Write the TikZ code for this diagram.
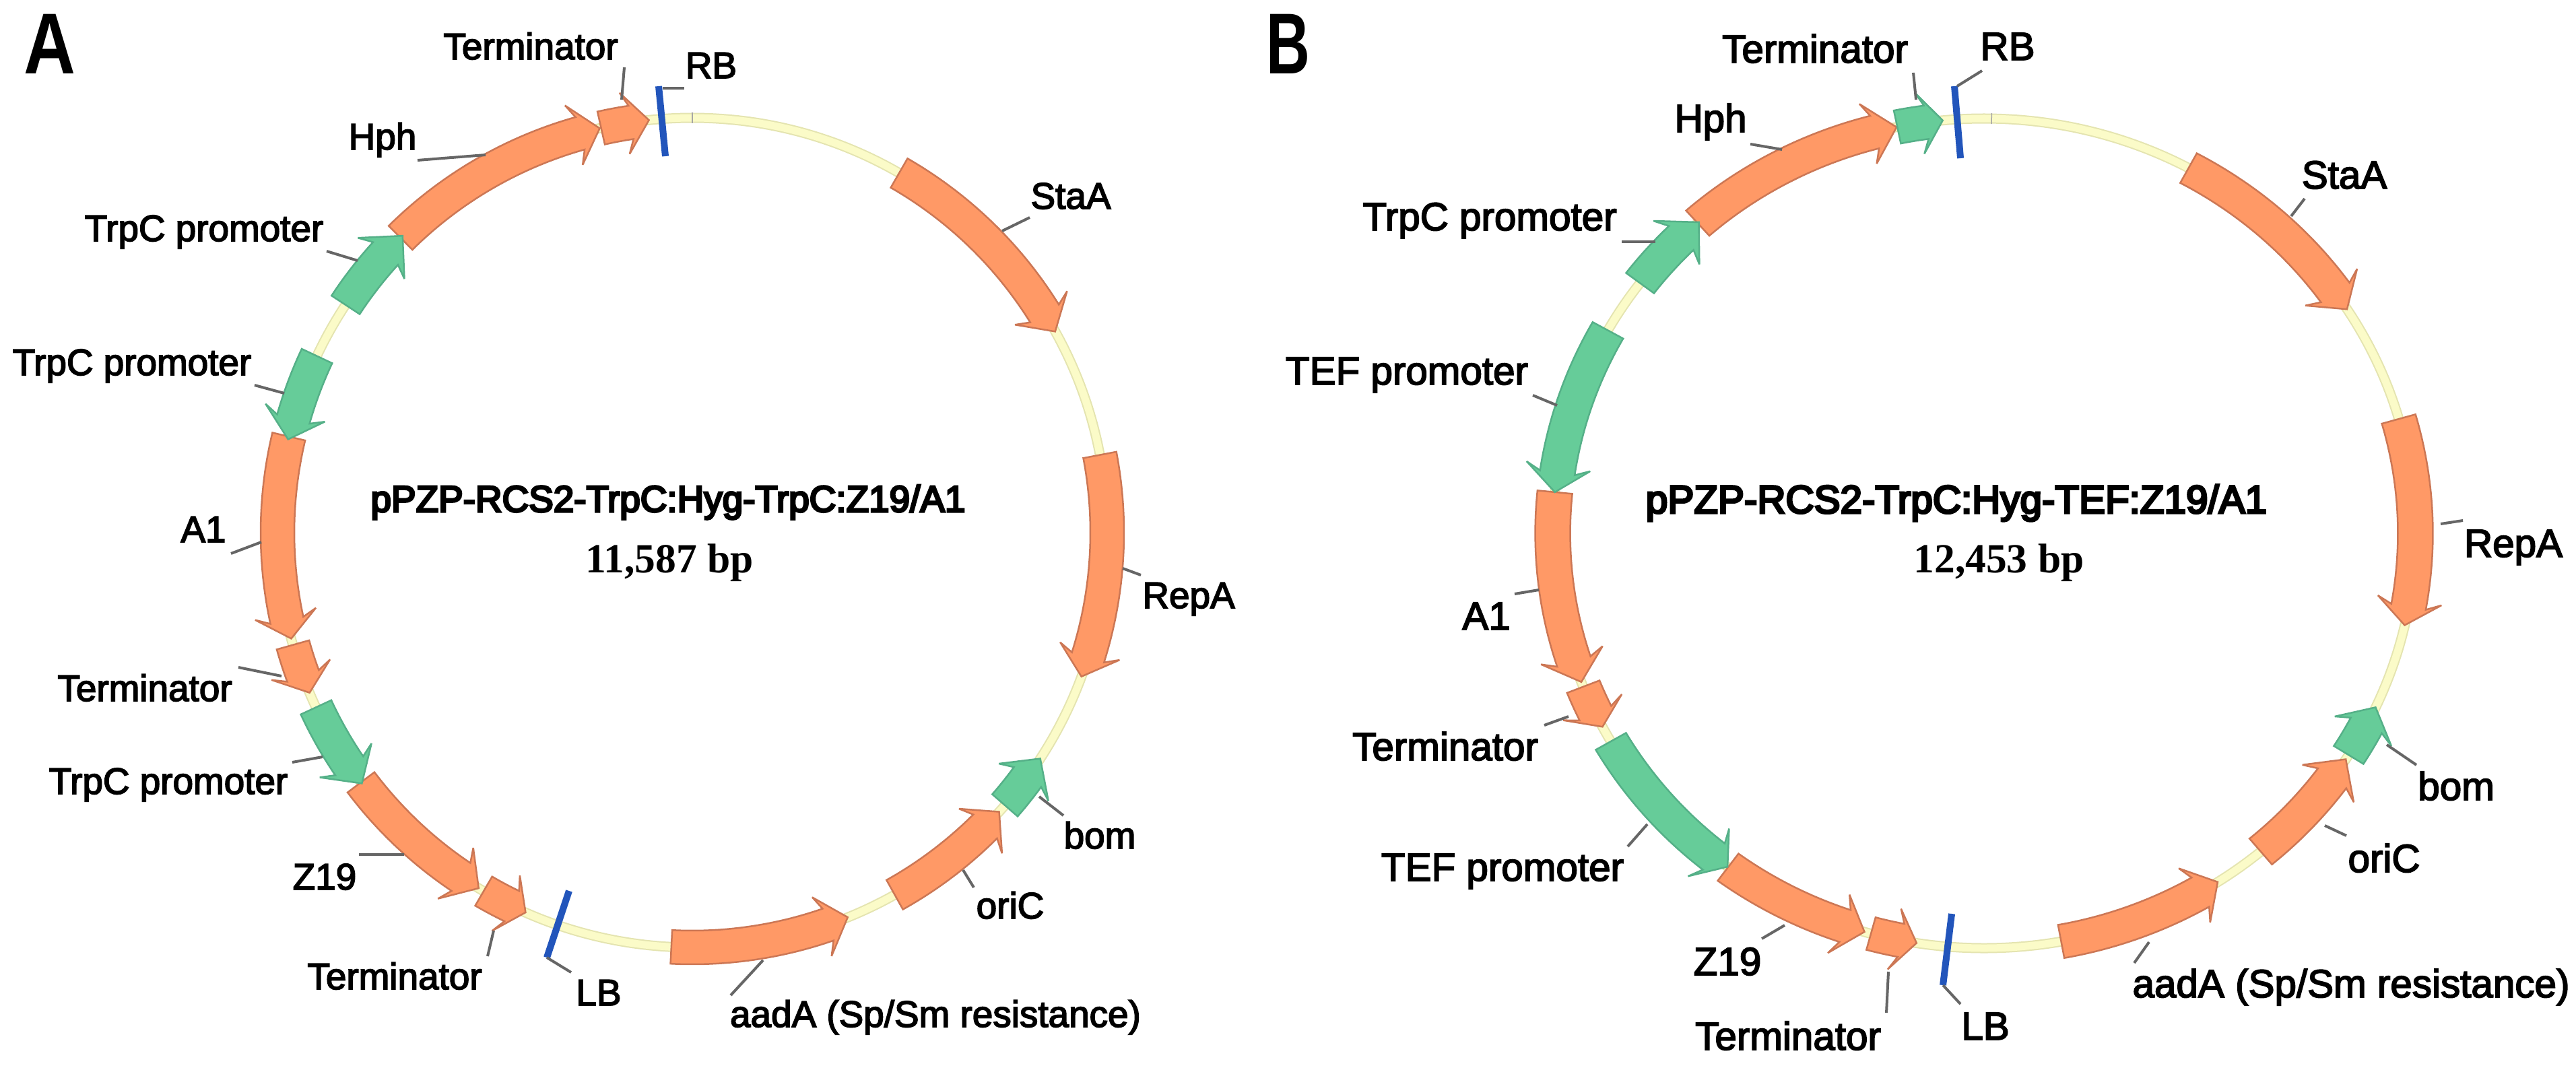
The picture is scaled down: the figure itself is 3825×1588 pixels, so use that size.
\documentclass[tikz,border=0pt]{standalone}
\usepackage{fontspec}
\setmainfont{Liberation Sans}
\newfontfamily\lblfont[FakeBold=3]{Liberation Sans}
\newfontfamily\titlefont[FakeBold=5.5]{Liberation Sans}
\newfontfamily\bpfont{Liberation Serif}
\definecolor{genorange}{HTML}{FF9966}
\definecolor{edgeorange}{HTML}{CC7755}
\definecolor{gengreen}{HTML}{66CC99}
\definecolor{edgegreen}{HTML}{55B088}
\definecolor{ringfill}{HTML}{FBFBC8}
\definecolor{ringedge}{HTML}{E4E4B0}
\definecolor{borderblue}{HTML}{2255BB}
\tikzset{
  ring/.style={draw=ringedge, line width=0.02cm, double=ringfill, double distance=0.11cm},
  orangegene/.style={draw=edgeorange, fill=genorange, line width=0.025cm, miter limit=2},
  greengene/.style={draw=edgegreen, fill=gengreen, line width=0.025cm, miter limit=2},
  border/.style={draw=borderblue, line width=0.1cm},
  leader/.style={draw=black!60, line width=0.04cm},
  tick/.style={draw=black!35, line width=0.015cm},
  lbla/.style={anchor=base, inner sep=0pt, font=\lblfont\fontsize{15.6}{18}\selectfont},
  lblb/.style={anchor=base, inner sep=0pt, font=\lblfont\fontsize{16.6}{19}\selectfont},
  titlea/.style={anchor=base, inner sep=0pt, font=\titlefont\fontsize{15.6}{18}\selectfont},
  titleb/.style={anchor=base, inner sep=0pt, font=\titlefont\fontsize{16.6}{19}\selectfont},
  bplbl/.style={anchor=base, inner sep=0pt, font=\bpfont\bfseries\fontsize{17.5}{20}\selectfont},
  panel/.style={anchor=base, inner sep=0pt, font=\bfseries\fontsize{36.5}{40}\selectfont},
}
% style, tail angle, head base angle, tip angle
\newcommand{\genearrow}[4]{
  \pgfmathsetmacro{\headjoin}{#3+0.9*sign(#4-#3)}
  \draw[#1] (#2:641) arc[start angle=#2, end angle=\headjoin, radius=641] -- (#3:662) -- (#4:616)
    -- (#3:570) -- (\headjoin:591) arc[start angle=\headjoin, end angle=#2, radius=591] -- cycle;
}
\begin{document}
\begin{tikzpicture}[x=0.01cm,y=-0.01cm]
\useasboundingbox (0,0) rectangle (3825,1588);

% plasmid A
\begin{scope}[shift={(1028,791)}]
\draw[ring] (0,0) circle[radius=616];
\coordinate (aTicks) at (-90:608);
\coordinate (aTicke) at (-90:624);
\draw[tick] (aTicks) -- (aTicke);
\genearrow{orangegene}{-60.1}{-32.8}{-29}
\genearrow{orangegene}{-10.8}{16.6}{20.3}
\genearrow{greengene}{41.1}{37}{33}
\genearrow{orangegene}{60.8}{46}{42.3}
\genearrow{orangegene}{92.9}{71.8}{68}
\genearrow{orangegene}{143}{124.8}{121}
\genearrow{orangegene}{120.2}{116.7}{113.7}
\genearrow{orangegene}{193.4}{168.7}{165.2}
\genearrow{orangegene}{164.3}{160.7}{157.3}
\genearrow{greengene}{155.1}{146.7}{142.8}
\genearrow{greengene}{205.2}{196.8}{193}
\genearrow{orangegene}{225.3}{253.4}{257.1}
\genearrow{greengene}{213.3}{221.4}{225.7}
\genearrow{orangegene}{257.3}{260.6}{264}
\end{scope}

% plasmid B
\begin{scope}[shift={(2946,792)},x=0.01039cm]
\draw[ring] (0,0) circle[radius=616];
\coordinate (bTicks) at (-89:608);
\coordinate (bTicke) at (-89:624);
\draw[tick] (bTicks) -- (bTicke);
\genearrow{orangegene}{-61.7}{-36.4}{-32.7}
\genearrow{orangegene}{-16}{9.3}{12.8}
\genearrow{greengene}{32.3}{28.5}{24.8}
\genearrow{orangegene}{50.1}{37.1}{33}
\genearrow{orangegene}{79.7}{60.8}{57.2}
\genearrow{orangegene}{105.2}{102}{99}
\genearrow{orangegene}{126.4}{109.7}{106.1}
\genearrow{greengene}{149.9}{129.7}{126.5}
\genearrow{orangegene}{158.3}{155.2}{152.2}
\genearrow{orangegene}{185.7}{162.9}{159}
\genearrow{greengene}{209.3}{189.3}{185.7}
\genearrow{orangegene}{228.4}{254.4}{258.3}
\genearrow{greengene}{217.1}{224.5}{228.6}
\genearrow{greengene}{258.4}{261.4}{264.5}
\end{scope}

% T-DNA borders
\foreach \n/\xa/\ya/\xb/\yb in {aRB/978/128/988/232, aLB/845/1323/812/1422, bRB/2902/128/2911/235, bLB/2898/1357/2885/1463}{
  \coordinate (\n s) at (\xa,\ya);
  \coordinate (\n e) at (\xb,\yb);
  \draw[border] (\n s) -- (\n e);
}

% leader lines
\foreach \n/\xa/\ya/\xb/\yb in {
  a1/927/100/923/148, a2/984/131/1016/131, a3/620/238/721/230, a4/1529/323/1488/343,
  a5/485/373/531/387, a6/378/572/422/584, a7/343/822/388/805, a8/1667/844/1694/854,
  a9/354/991/418/1004, a10/434/1132/479/1124, a11/533/1269/600/1269, a12/724/1420/733/1382,
  a13/812/1422/848/1444, a14/1133/1426/1085/1478, a15/1430/1292/1446/1318, a16/1543/1183/1579/1211,
  b1/2841/108/2845/148, b2/2943/105/2906/128, b3/2599/214/2646/222, b4/3422/295/3402/321,
  b5/2408/359/2458/359, b6/2276/587/2312/602, b7/3624/778/3657/773, b8/2249/882/2285/876,
  b9/2293/1077/2329/1064, b10/2417/1257/2446/1224, b11/2616/1394/2650/1374, b12/2801/1504/2804/1443,
  b13/2911/1491/2885/1463, b14/3169/1430/3191/1399, b15/3484/1241/3452/1226, b16/3588/1136/3544/1106}{
  \coordinate (\n s) at (\xa,\ya);
  \coordinate (\n e) at (\xb,\yb);
  \draw[leader] (\n s) -- (\n e);
}

\node[panel] (panelA) at (74,110) {\scalebox{0.83}[1]{A}};
\node[lbla] (aTermTop) at (788,88) {Terminator};
\node[lbla] (aRB) at (1056,116) {RB};
\node[lbla] (aHph) at (568,222) {Hph};
\node[lbla] (aStaA) at (1590,310) {StaA};
\node[lbla] (aTrpCa) at (303,358) {TrpC promoter};
\node[lbla] (aTrpCb) at (196,557) {TrpC promoter};
\node[titlea] (aTitle) at (992,760) {pPZP-RCS2-TrpC:Hyg-TrpC:Z19/A1};
\node[bplbl] (aSize) at (994,850) {11,587 bp};
\node[lbla] (aAone) at (302,805) {A1};
\node[lbla] (aRepA) at (1765,903) {RepA};
\node[lbla] (aTermLeft) at (215,1041) {Terminator};
\node[lbla] (aTrpCc) at (250,1179) {TrpC promoter};
\node[lbla] (aZ) at (482,1321) {Z19};
\node[lbla] (aTermBot) at (586,1469) {Terminator};
\node[lbla] (aLB) at (889,1493) {LB};
\node[lbla] (aAadA) at (1389,1525) {aadA (Sp/Sm resistance)};
\node[lbla] (aOriC) at (1500,1364) {oriC};
\node[lbla] (aBom) at (1633,1260) {bom};

\node[panel] (panelB) at (1913,110) {\scalebox{0.7}[1]{B}};
\node[lblb] (bTermTop) at (2695,93) {Terminator};
\node[lblb] (bRB) at (2981,89) {RB};
\node[lblb] (bHph) at (2540,196) {Hph};
\node[lblb] (bStaA) at (3481,280) {StaA};
\node[lblb] (bTrpC) at (2212,342) {TrpC promoter};
\node[lblb] (bTEFa) at (2089,571) {TEF promoter};
\node[titleb] (bTitle) at (2905,762) {pPZP-RCS2-TrpC:Hyg-TEF:Z19/A1};
\node[bplbl] (bSize) at (2968,850) {12,453 bp};
\node[lblb] (bRepA) at (3732,827) {RepA};
\node[lblb] (bAone) at (2207,935) {A1};
\node[lblb] (bTermLeft) at (2146,1129) {Terminator};
\node[lblb] (bTEFb) at (2231,1308) {TEF promoter};
\node[lblb] (bZ) at (2565,1448) {Z19};
\node[lblb] (bTermBot) at (2655,1559) {Terminator};
\node[lblb] (bLB) at (2948,1544) {LB};
\node[lblb] (bAadA) at (3491,1481) {aadA (Sp/Sm resistance)};
\node[lblb] (bOriC) at (3540,1295) {oriC};
\node[lblb] (bBom) at (3647,1188) {bom};
\end{tikzpicture}
\end{document}
